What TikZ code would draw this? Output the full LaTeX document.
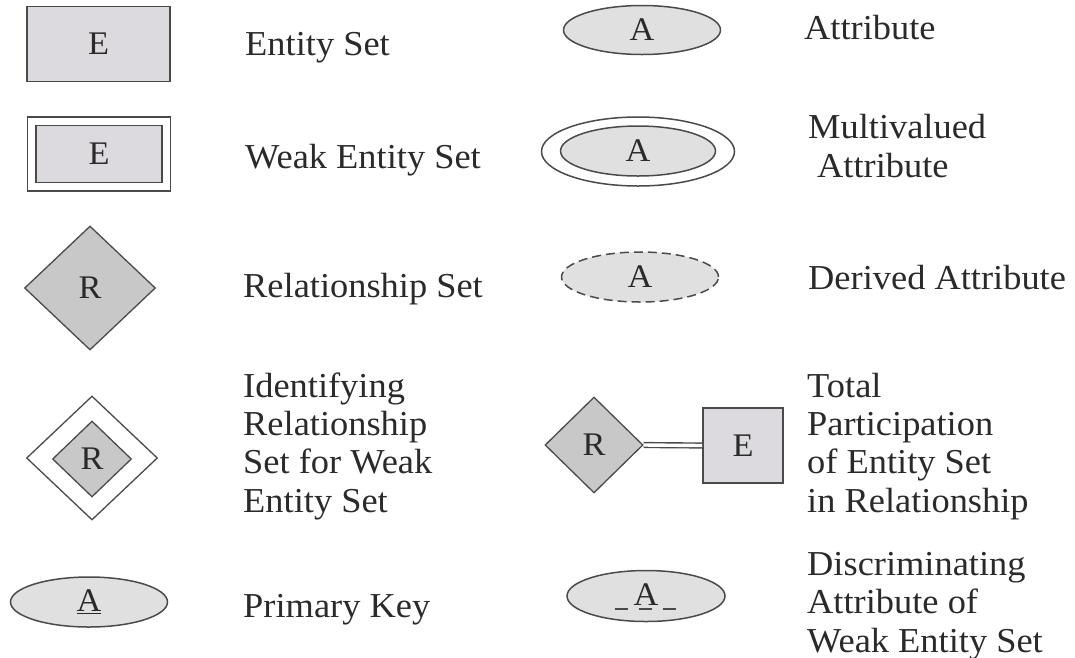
\documentclass[tikz,border=0pt]{standalone}
\usepackage{fontspec}
\setmainfont{Liberation Serif}[FakeStretch=1.04]
\usetikzlibrary{shapes.geometric,calc}
\definecolor{edge}{HTML}{4A4A4A}
\definecolor{entfill}{HTML}{DCDADF}
\definecolor{relfill}{HTML}{C8C8C8}
\definecolor{attfill}{HTML}{E0E0E0}
\definecolor{ink}{HTML}{2A2A2A}
\tikzset{
  lbl/.style={inner sep=0pt, anchor=base west,
    font=\fontsize{35}{38.3}\selectfont, text=ink},
  sym/.style={font=\fontsize{33}{36}\selectfont, text=ink},
  ent/.style={sym, draw=edge, line width=1.6pt, fill=entfill, rectangle, inner sep=0pt},
  rel/.style={sym, draw=edge, line width=1.3pt, fill=relfill, diamond, inner sep=0pt},
  att/.style={sym, draw=edge, line width=1.5pt, fill=attfill, ellipse, inner sep=0pt},
}
\begin{document}
\begin{tikzpicture}[x=1pt,y=-1pt]
\useasboundingbox (0,0) rectangle (1075,657);

% ---- left column ----
\node[ent, minimum width=143, minimum height=75] (e1) at (98.5,44) {E};
\node[lbl] (l1) at (245,55) {Entity Set};

\node[ent, fill=white, minimum width=143, minimum height=74] (we) at (99,154) {};
\node[ent, minimum width=126, minimum height=57] (wi) at (99,154) {E};
\node[lbl] (l2) at (245,168) {Weak Entity Set};

\node[rel, minimum width=131, minimum height=124] (r1) at (90,288) {R};
\node[lbl] (l3) at (243,297) {Relationship Set};

\node[rel, fill=white, minimum width=131, minimum height=124] (ir) at (92,458) {};
\node[rel, minimum width=79, minimum height=76] (iri) at (92,459) {R};
\node[lbl] (l4a) at (243,397) {Identifying};
\node[lbl] (l4b) at (243,435) {Relationship};
\node[lbl] (l4c) at (243,473) {Set for Weak};
\node[lbl] (l4d) at (243,512) {Entity Set};

\node[att, minimum width=157, minimum height=50] (pk) at (89,602) {\underline{A}};
\node[lbl] (l5) at (243,617) {Primary Key};

% ---- right column ----
\node[att, minimum width=157, minimum height=49] (a1) at (642,30) {A};
\node[lbl] (r1l) at (804,39) {Attribute};

\node[att, fill=white, minimum width=193, minimum height=69] (mo) at (638,151.5) {};
\node[att, minimum width=155, minimum height=50] (mi) at (638,151) {A};
\node[lbl] (r2a) at (808,138) {Multivalued};
\node[lbl] (r2b) at (817,177) {Attribute};

\node[att, dash pattern=on 9pt off 5pt, minimum width=157, minimum height=50] (da) at (640,277) {A};
\node[lbl] (r3l) at (808,289) {Derived Attribute};

\node[rel, minimum width=98, minimum height=96] (tr) at (594,445) {R};
\node[ent, minimum width=80, minimum height=75] (te) at (743,445.5) {E};
\draw[edge, line width=1.4pt, double=white, double distance=3.4pt] (tr.east) -- (te.west);
\node[lbl] (r4a) at (807,397) {Total};
\node[lbl] (r4b) at (807,435) {Participation};
\node[lbl] (r4c) at (807,473) {of Entity Set};
\node[lbl] (r4d) at (807,512) {in Relationship};

\node[att, minimum width=158, minimum height=51] (dis) at (646,596) {\raisebox{3pt}{A}};
\coordinate (dl) at ($(dis.center)+(-31,13)$);
\coordinate (dr) at ($(dis.center)+(31,13)$);
\draw[edge, line width=1.5pt, dash pattern=on 13pt off 11pt] (dl) -- (dr);
\node[lbl] (r5a) at (807,575) {Discriminating};
\node[lbl] (r5b) at (807,613) {Attribute of};
\node[lbl] (r5c) at (807,652) {Weak Entity Set};
\end{tikzpicture}
\end{document}
